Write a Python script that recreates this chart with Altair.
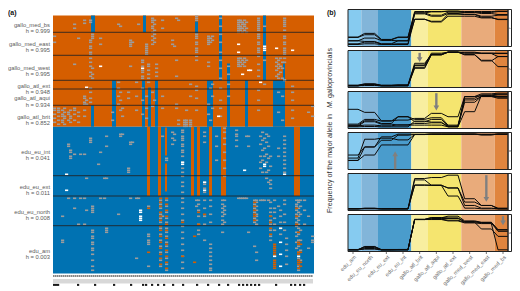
import altair as alt
import pandas as pd

FONT = "Liberation Sans"
ORANGE, BLUE, GREY, WHITE = "#D55E00", "#0072B2", "#9C9C9C", "#FFFFFF"

# ---------- panel (a): heatmap values ----------
GROUP_LABELS = ["gallo_med_bs|h = 0.999", "gallo_med_east|h = 0.995", "gallo_med_west|h = 0.995",
                "gallo_atl_ext|h = 0.948", "gallo_atl_aqui|h = 0.934", "gallo_atl_brit|h = 0.852",
                "edu_eu_int|h = 0.041", "edu_eu_ext|h = 0.011", "edu_eu_north|h = 0.008", "edu_am|h = 0.003"]
GROUP_CENTRES = [4.6, 14.25, 26.25, 35, 41.4, 50.5, 68, 85.5, 98.25, 117.5]
GROUP_BREAKS = [8.4, 19.9, 32.4, 36.75, 44.9, 80.1, 90.25, 105.1]

BASE_BLOCKS = [(0, 130.5, 0, 55.6, "o"), (0, 130.5, 55.6, 129, "b")]
# (first column, last column, first row, last row, allele)
STRIPES = [
    (19, 21, 0, 8.4, "b"), (45, 46.5, 0, 8.4, "b"), (29.5, 31.5, 32.4, 55.6, "b"),
    (44.5, 46, 32.4, 55.6, "b"), (47.5, 49, 36, 55.6, "b"), (51, 52.5, 32.4, 55.6, "b"),
    (83, 84.5, 0, 32.4, "b"), (87, 88.5, 24, 55.6, "b"), (77, 80, 32.4, 55.6, "b"),
    (96, 97.5, 32.4, 55.6, "b"), (105, 106.5, 0, 32.4, "b"), (110, 116, 32.4, 55.6, "b"),
    (19, 20.5, 44.9, 55.6, "b"), (71, 72.5, 3, 9, "b"), (115, 116, 24, 32.4, "b"), (52, 52.5, 45, 50, "b"),
    (47, 48.5, 55.6, 90.25, "o"), (52.5, 54, 55.6, 90.25, "o"), (69, 70.5, 55.6, 90.25, "o"),
    (72, 73.5, 55.6, 90.25, "o"), (78, 79.5, 55.6, 90.25, "o"), (84, 86.5, 55.6, 90.25, "o"),
    (120.5, 123.5, 55.6, 90.25, "o"), (56, 57, 56, 70, "o"), (56, 57, 74, 88, "o"),
]
GREY_MARKS = [
    (0, [10, 13, 46, 47, 49, 51, 53]), (2, [46, 47, 48, 50, 52, 54]), (4, [47, 49, 50, 52, 53, 100, 112, 113]),
    (5, [46, 48, 50, 51, 54]), (7, [48, 49, 52, 64, 65, 91]), (8, [47, 50, 51, 53, 67, 68, 70, 71]),
    (10, [4, 6, 24, 46, 47, 49, 52, 69, 91, 96]), (12, [11, 48, 50, 53, 104]), (13, [69, 91]), (15, [2, 3.5, 40, 41, 43, 44, 47, 50, 69, 91, 104]),
    (16, [42, 44, 81, 97]), (18, [2, 3, 12, 13, 15, 16, 18, 19, 21, 23, 25, 28, 30, 36, 38, 41, 43, 61, 62, 63]),
    (19, [9, 10, 11, 26, 29, 31, 95, 96, 97, 98, 107, 108, 110, 111, 113, 114, 116, 117, 119, 122, 125, 127]),
    (22, [74]), (23, [11, 14, 68, 91]), (25, [81, 91]), (26, [60, 65, 81, 106, 107, 108]), (29, [48, 52]),
    (32, [4, 33, 36, 40, 44, 99]), (33, [5, 38, 42, 47, 59, 60]), (34, [46, 50, 59]), (37, [38, 41, 76, 77, 78]),
    (38, [12, 13, 14, 15, 25, 63, 64, 91]), (39, [13, 63]), (41, [33, 40, 47, 121, 91]), (42, [4, 91]),
    (44, [22, 23, 25, 27, 28, 30, 31, 36, 42, 49]), (46, [14, 15, 16, 17, 18, 19, 40, 46, 51]),
    (47, [24, 25, 27, 29, 31, 33, 95, 109, 110, 112, 113, 114, 125]), (49, [1, 2, 3, 5, 6, 8, 10, 12, 14, 38, 45]),
    (50, [2, 4, 7, 9, 11, 13, 42]), (51, [24, 26, 28, 30]), (53, [92, 94, 96, 99, 101, 103, 106, 109, 112, 115, 118, 122, 125]),
    (54, [2, 6, 40, 46, 60, 100]), (56, [71, 72, 92, 95, 98, 101, 103, 106, 108, 110, 113, 115, 118, 121, 124, 127]),
    (59, [58, 61, 64, 12, 14]), (60, [15, 59, 62]), (61, [1, 22, 30, 44, 46]), (62, [52, 54, 2]),
    (64, [57, 58, 60, 61, 62, 64, 65, 67, 68, 70, 73, 76, 78, 80, 83, 85, 88, 91, 93, 96, 99, 102, 105, 108, 111, 114, 117, 120, 123, 126]),
    (65, [52, 53, 54, 55]), (66, [52, 53, 54, 55, 47]), (68, [52, 53, 54, 55, 34, 40]),
    (71, [0, 1, 2, 9, 10, 11, 13, 14, 16, 17, 18, 20, 22, 35, 37, 41, 47, 92, 95]), (72, [92, 94, 97, 100, 104, 107, 109]),
    (75, [58, 60, 63, 83, 84, 86, 88, 92, 96, 100, 104, 112]), (77, [10, 11, 12, 13, 14, 23, 25, 44, 49]),
    (78, [11, 13, 92, 95, 99, 103, 114, 116, 118, 120, 122, 124, 126, 127, 36, 52]), (79, [10, 12, 34, 40, 46]),
    (81, [60, 65, 72]), (83, [1, 5, 9, 13, 18, 22, 26, 31, 36, 42, 46, 50]), (84, [92, 94, 96, 98, 100, 102, 104, 108]),
    (85, [56, 58, 61, 64, 68, 72, 76, 80, 92, 95, 97, 99, 103]), (87, [25, 29, 34, 40]), (91, [57, 59, 60, 62, 65]),
    (92, [2, 3, 4, 5, 6, 7, 8, 21, 22, 23, 24, 25, 91]), (93, [2, 3, 5, 6, 7, 21, 23, 25, 91]), (94, [3, 4, 6, 8, 22, 24, 91]),
    (95, [2, 4, 5, 7, 21, 23, 25, 91]), (96, [3, 6, 8, 22, 91, 60]), (97, [65, 60, 108]), (100, [92, 94, 96, 98, 101, 103, 115]),
    (101, [92, 93, 95, 97, 99, 100, 102, 104, 118, 122]), (102, [1, 2, 3, 4, 5, 6, 7, 9, 10, 11, 13, 14, 16, 17, 18, 20, 24, 27, 30, 37, 42, 47]),
    (103, [60, 64, 70, 73, 76, 92]), (104, [58, 62, 67, 72, 78, 92]), (105, [5, 22, 34, 61, 66, 70, 92]), (106, [59, 63, 69, 73, 78, 81]),
    (107, [60, 65, 71, 77, 83, 92]), (108, [70, 75, 82, 84, 86, 93, 96, 98, 100, 102, 104, 107, 110, 112]),
    (110, [92, 96, 98, 101, 104, 107]), (111, [21, 23, 25, 27, 30]), (112, [22, 24, 26, 29, 31, 38, 48, 66, 70, 95]),
    (113, [21, 25, 28, 97, 100, 103, 106, 109]), (114, [23, 26, 31, 40, 52]),
    (115, [1, 2, 3, 4, 5, 7, 10, 11, 13, 14, 16, 17, 18, 19, 21, 23, 60, 62, 64, 66, 68, 70, 72, 74, 76, 78, 92, 94, 99, 103, 107]),
    (116, [111, 114, 117, 120, 124]), (119, [35, 38, 42, 47, 51]), (121, [92, 94, 95, 97, 99, 101, 103, 105, 108, 110, 113, 116]),
    (122, [92, 93, 96, 98, 100, 102, 104, 106, 109, 112, 115, 118, 121, 125, 127]), (123, [92, 95, 99, 107, 112, 117, 122]),
    (125, [92, 97, 104]), (127, [48, 100, 116]), (129, [110, 112, 113, 45, 50]),
]
ORANGE_MARKS = [
    (53, [91, 93, 95, 98, 100, 102, 105, 107, 110, 113, 116, 119, 121, 124]),
    (56, [91, 94, 97, 100, 104, 107, 111, 114, 117, 120, 123, 126]),
    (100, [93, 95, 97, 99, 100, 102]), (108, [100, 103, 106, 109]), (110, [114, 115, 116, 117, 118, 119, 120, 122, 123, 124, 125, 126]),
    (121, [96, 100, 104]), (122, [108, 113, 114, 118, 119, 122, 123, 124, 126]), (123, [114, 118, 123, 125]), (47, [96, 118]),
    (64, [103, 120]), (70, [110, 123]), (75, [99]), (72, [98, 104]),
]
WHITE_MARKS = [
    (23, [25]), (44, [26]), (16, [35.5]), (6, [79, 87]), (43, [97, 98, 100, 101, 102]), (92, [14, 18]), (105, [15, 16, 17, 74, 75]),
    (111, [16]), (119, [17]), (97, [27]), (98, [27]), (94, [29]), (103, [33]), (115, [32, 79]), (64, [73, 74]), (75, [83, 87]),
    (95, [77]), (113, [106, 113, 119, 125]), (110, [120]), (122, [120]), (82, [50]),
]
MARKER_COLUMNS = list(range(130))
BLACK_SQUARES = [0, 1, 2, 12, 20.5, 30, 38.5, 44.5, 46, 49, 52, 55, 59.5, 64.5, 71.5, 77, 82.5, 87, 92.5, 94.5, 96.5, 98.5, 100.5,
                 102.5, 111, 118.5, 120.5, 123, 125]


def marks(entries, kind, wide=1.6):
    return [(c, c + wide, r, r + 0.8, kind) for c, rows in entries for r in rows]


rows = BASE_BLOCKS + STRIPES + marks(GREY_MARKS, "g") + marks(ORANGE_MARKS, "o") + marks(WHITE_MARKS, "w")
rows += [(c + .15, c + .7, 129.7, 130.7, "k") for c in MARKER_COLUMNS]
rows += [(c + .05, c + .95, 131.7, 134, "l") for c in MARKER_COLUMNS]
rows += [(c, c + 1.1, 134.2, 135.2, "x") for c in BLACK_SQUARES]
heat_df = pd.DataFrame(rows, columns=["c0", "c1", "r0", "r1", "kind"])

xh = alt.X("c0:Q", axis=None, scale=alt.Scale(domain=[0, 130.5], nice=False, zero=False))
yh_scale = alt.Scale(domain=[135.5, -3], nice=False, zero=False)

heat_rect = alt.Chart(heat_df).mark_rect(stroke=None).encode(
    x=xh, x2="c1:Q",
    y=alt.Y("r0:Q", scale=yh_scale, axis=alt.Axis(values=GROUP_CENTRES, labels=False, domain=False, grid=False, title=None,
                                                  tickSize=2, tickColor="#666", tickWidth=0.7)),
    y2="r1:Q",
    color=alt.Color("kind:N", legend=None, scale=alt.Scale(
        domain=["o", "b", "g", "w", "k", "l", "x"],
        range=[ORANGE, BLUE, GREY, WHITE, "#555555", "#D4D4D4", "#1A1A1A"])),
)
break_df = pd.DataFrame({"r": GROUP_BREAKS, "a": [0] * len(GROUP_BREAKS), "b": [130.5] * len(GROUP_BREAKS)})
heat_breaks = alt.Chart(break_df).mark_rule(color="#222222", strokeWidth=1, opacity=0.85).encode(
    x=alt.X("a:Q", axis=None, scale=alt.Scale(domain=[0, 130.5], nice=False, zero=False)), x2="b:Q",
    y=alt.Y("r:Q", scale=yh_scale, axis=None))
label_df = pd.DataFrame({"t": GROUP_LABELS, "r": GROUP_CENTRES})
heat_labels = alt.Chart(label_df).mark_text(align="right", baseline="middle", fontSize=5.8, lineBreak="|", lineHeight=6.3,
                                            font=FONT, color="#5A5A5A").encode(
    x=alt.value(-3), y=alt.Y("r:Q", scale=yh_scale, axis=None), text="t:N")


def note(text, x, y, angle=0, align="left", size=7.1, style="normal", weight="normal", color="#333333"):
    return alt.Chart(pd.DataFrame({"t": [text]})).mark_text(
        align=align, baseline="middle", fontSize=size, font=FONT, fontStyle=style, fontWeight=weight,
        angle=angle, color=color).encode(x=alt.value(x), y=alt.value(y), text="t:N")


left = alt.layer(
    heat_rect, heat_breaks, heat_labels,
    note("(a)", -45, 3, size=7, weight="bold", color="#111111"),
    note("(b)", 274, 3, size=7, weight="bold", color="#111111"),
    note("Frequency of the major allele in", 277, 203.5, angle=270),
    note("M.", 277, 98.5, angle=270, style="italic"),
    note("galloprovincialis", 277, 88.5, angle=270),
).properties(width=261, height=277)

# ---------- panel (b): allele frequency lines ----------
POPS = ["edu_am", "edu_eu_north", "edu_eu_ext", "edu_eu_int", "gallo_atl_brit", "gallo_atl_aqui",
        "gallo_atl_ext", "gallo_med_west", "gallo_med_east", "gallo_med_bs"]
POP_POSITIONS = list(range(10))
BAND_STARTS = [-0.3, 0.5, 1.5, 3.5, 4.5, 6.5, 8.5]
BAND_ENDS = [0.5, 1.5, 3.5, 4.5, 6.5, 8.5, 9.3]
BAND_COLOURS = ["#86CBF0", "#82B5D9", "#4A9CCC", "#F8EEA0", "#F5E56F", "#E9AB7B", "#E0853F"]

PANEL_1 = [
    [.23, .34, .16, .23, .99, .99, 1.0, .97, .96, .99],
    [.22, .30, .15, .22, .95, .88, .97, .96, .93, .90],
    [.12, .20, .13, .12, .92, .85, .93, .91, .85, .88],
    [.12, .10, .03, .12, .76, .68, .85, .85, .80, .76],
    [.03, .08, .02, .03, .76, .70, .91, .90, .82, .75],
    [.01, .03, .01, .01, .95, .98, 1.0, .99, .99, 1.0],
]
PANEL_2 = [
    [.02, .06, .02, .03, .67, .93, 1.0, 1.0, .97, .97],
    [.00, .03, .00, .00, .60, .97, 1.0, .97, .97, .96],
    [.01, .05, .01, .02, .55, .92, 1.0, .93, .74, .87],
    [.00, .01, .00, .00, .52, .92, 1.0, .92, .76, .57],
    [.00, .04, .00, .01, .62, .94, 1.0, .98, .96, .87],
]
PANEL_3 = [
    [.52, .43, .18, .20, .25, .40, .30, .90, .98, 1.0],
    [.08, .22, .17, .30, .22, .27, .05, .85, .95, .97],
    [.05, .18, .10, .30, .15, .22, .02, .80, .90, .85],
    [.03, .05, .03, .06, .10, .12, .02, .73, .90, .90],
    [.02, .15, .08, .05, .05, .05, .00, .45, .93, .88],
    [.00, .01, .00, .00, .17, .14, .00, .90, .92, .95],
]
PANEL_4 = [
    [.38, .62, .92, 1.0, 1.0, 1.0, 1.0, 1.0, 1.0, 1.0],
    [.29, .85, .88, .83, .99, 1.0, 1.0, 1.0, .98, 1.0],
    [.22, .38, .68, .68, .99, 1.0, 1.0, 1.0, .98, 1.0],
    [.22, .62, .82, .97, .99, 1.0, 1.0, 1.0, .99, 1.0],
]
PANEL_5 = [
    [.00, .01, .00, .00, .90, .93, 1.0, .30, .10, .02],
    [.00, .02, .00, .00, .86, .70, .62, .20, .10, .00],
    [.00, .00, .00, .00, .70, .70, .38, .02, .00, .00],
    [.00, .01, .00, .00, .71, .70, .62, .10, .02, .00],
]
PANEL_6 = [
    [.00, .10, .00, .01, .90, .95, 1.0, .86, .82, .60],
    [.00, .07, .00, .00, .90, .93, .93, .84, .80, .55],
    [.00, .04, .00, .00, .90, .91, .88, .82, .62, .40],
    [.00, .02, .00, .00, .90, .90, .86, .80, .78, .00],
    [.01, .09, .01, .01, .91, .96, .95, .83, .81, .59],
]
PANELS = [PANEL_1, PANEL_2, PANEL_3, PANEL_4, PANEL_5, PANEL_6]
# (position, tail, tip) of each grey arrow
ARROWS = [None, (4, .98, .70), (5, 1.0, .48), (2.53, -.04, .50), (8, 1.0, .20), (9, 1.0, .72)]
Y_TICKS = [0, .25, .5, .75, 1]

x_scale = alt.Scale(domain=[-0.3, 9.54], nice=False, zero=False)
y_scale = alt.Scale(domain=[-0.05, 1.05], nice=False, zero=False)
band_df = pd.DataFrame({"a": BAND_STARTS, "b": BAND_ENDS, "c": BAND_COLOURS, "lo": -0.05, "hi": 1.05})
pop_df = pd.DataFrame({"x": POP_POSITIONS, "t": POPS})


def panel(i, lines, last):
    y_axis = alt.Axis(values=Y_TICKS, format=".2f", labelFontSize=4, labelColor="#666", labelFont=FONT, title=None, domain=False,
                      grid=False, tickSize=2, tickColor="#333", tickWidth=0.6, labelPadding=1)
    bands = alt.Chart(band_df).mark_rect().encode(
        x=alt.X("a:Q", scale=x_scale, axis=None), x2="b:Q",
        y=alt.Y("lo:Q", scale=y_scale, axis=y_axis), y2="hi:Q",
        color=alt.Color("c:N", scale=None))
    recs = []
    for k, vals in enumerate(lines):
        for p, v in enumerate(vals):
            recs += [{"k": k, "x": p - 0.3, "v": v}, {"k": k, "x": p + 0.3, "v": v}]
    line = alt.Chart(pd.DataFrame(recs)).mark_line(color="#0A0A0A", strokeWidth=1).encode(
        x=alt.X("x:Q", scale=x_scale, axis=None), y=alt.Y("v:Q", scale=y_scale, axis=None), detail="k:N", order="x:Q")
    frame_df = pd.DataFrame({"a": [-0.3, 9.3], "b": [9.3, 9.51], "lo": -0.05, "hi": 1.05})
    frame = alt.Chart(frame_df).mark_rect(fill="#FFFFFF", fillOpacity=0, stroke="#222222", strokeWidth=1).encode(
        x=alt.X("a:Q", scale=x_scale, axis=None), x2="b:Q", y=alt.Y("lo:Q", scale=y_scale, axis=None), y2="hi:Q")
    strip_txt = alt.Chart(pd.DataFrame({"x": [9.41], "v": [0.5], "t": [str(i + 1)]})).mark_text(
        angle=90, fontSize=4, font=FONT, color="#333").encode(
        x=alt.X("x:Q", scale=x_scale, axis=None), y=alt.Y("v:Q", scale=y_scale, axis=None), text="t:N")
    parts = [bands, line, frame, strip_txt]
    if ARROWS[i]:
        ax, tail, tip = ARROWS[i]
        down = tip < tail
        shaft_end = tip + (0.12 if down else -0.12)
        a_df = pd.DataFrame({"x": [ax], "a": [tail], "b": [shaft_end], "t": [tip + (0.08 if down else -0.08)]})
        parts.append(alt.Chart(a_df).mark_rule(color="#808080", strokeWidth=2.4).encode(
            x=alt.X("x:Q", scale=x_scale, axis=None), y=alt.Y("a:Q", scale=y_scale, axis=None), y2="b:Q"))
        parts.append(alt.Chart(a_df).mark_point(filled=True, opacity=1, color="#808080", size=32,
                                                shape="triangle-down" if down else "triangle-up").encode(
            x=alt.X("x:Q", scale=x_scale, axis=None), y=alt.Y("t:Q", scale=y_scale, axis=None)))
    if last:
        parts.append(alt.Chart(pop_df).mark_rule(color="#333333", strokeWidth=0.7).encode(
            x=alt.X("x:Q", scale=x_scale, axis=None), y=alt.value(37), y2=alt.value(39.5)))
        parts.append(alt.Chart(pop_df).mark_text(angle=315, align="right", baseline="top", fontSize=5.5, font=FONT,
                                                 color="#6A6A6A", dx=1, dy=0).encode(
            x=alt.X("x:Q", scale=x_scale, axis=None), y=alt.value(41), text="t:N"))
    return alt.layer(*parts).properties(width=164, height=37)


right = alt.vconcat(*[panel(i, p, i == 5) for i, p in enumerate(PANELS)], spacing=4, bounds="flush")

chart = alt.hconcat(left, right, spacing=34, bounds="flush").properties(
    autosize=alt.AutoSizeParams(type="none"),
    padding={"left": 45, "top": 1.5, "right": 459, "bottom": 278.5}).configure_view(stroke=None)
chart.save("out.html", embed_options={"renderer": "svg", "actions": False})
